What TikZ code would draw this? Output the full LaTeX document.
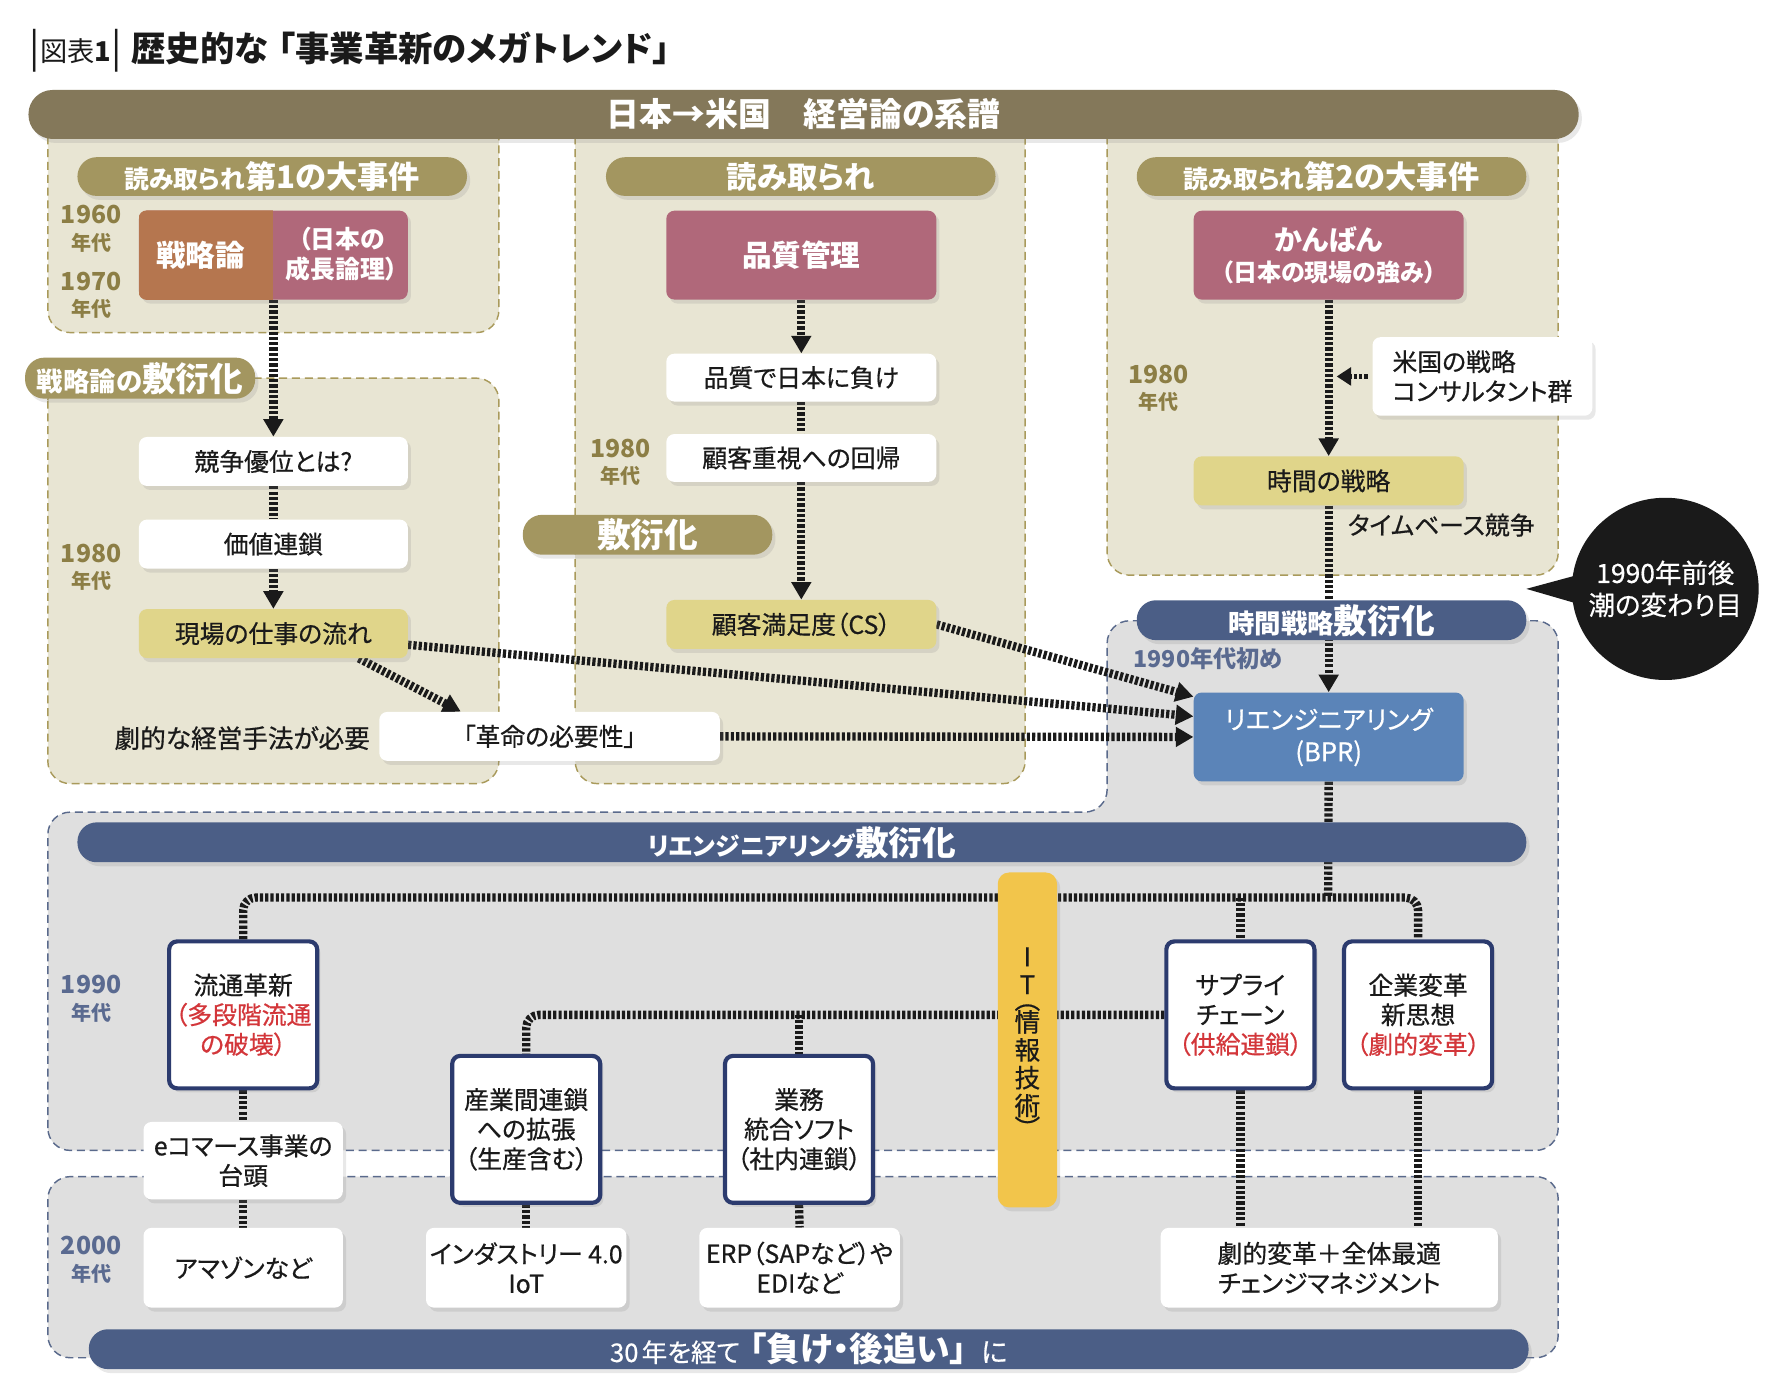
\documentclass[tikz,border=0pt]{standalone}
\usepackage{fontspec}
\setmainfont{Noto Sans CJK JP}[RawFeature=+palt]
\newfontfamily\jpm{Noto Sans CJK JP}[RawFeature=+palt,FakeBold=0.6]
\usepackage{xcolor}
\usepackage{graphicx}
\usepackage{tikz}
\usetikzlibrary{positioning,arrows.meta,shadows,calc,shapes.geometric}

\definecolor{banner}{RGB}{132,120,90}
\definecolor{khaki}{RGB}{163,150,96}
\definecolor{beige}{RGB}{232,229,211}
\definecolor{beigeline}{RGB}{169,154,91}
\definecolor{mauve}{RGB}{176,104,122}
\definecolor{rust}{RGB}{181,118,79}
\definecolor{straw}{RGB}{224,213,138}
\definecolor{navy}{RGB}{75,94,134}
\definecolor{bprblue}{RGB}{91,132,184}
\definecolor{greybg}{RGB}{223,223,223}
\definecolor{greyline}{RGB}{90,106,140}
\definecolor{frame}{RGB}{44,59,110}
\definecolor{alert}{RGB}{211,54,58}
\definecolor{itgold}{RGB}{242,197,75}
\definecolor{eragold}{RGB}{140,126,69}
\definecolor{erablue}{RGB}{90,106,144}
\definecolor{ink}{RGB}{26,26,26}

\def\pu{0.025cm}
\newcommand\fsz[2]{\fontsize{#1}{#2}\selectfont}
\newcommand\era[1]{#1\\{\fsz{12.5}{15}年代}}
\newcommand\vparen[1]{\smash{\rotatebox[origin=c]{-90}{#1}}}

\pgfdeclarelayer{panels}
\pgfdeclarelayer{links}
\pgfsetlayers{panels,links,main}

\begin{document}
\begin{tikzpicture}[x=\pu,y=-\pu,
    lift/.style={drop shadow={opacity=0.18,shadow xshift=2pt,shadow yshift=-2.5pt}},
    dims/.style 2 args={minimum width=#1*\pu,minimum height=#2*\pu},
    box/.style={rectangle,rounded corners=5pt,fill=white,text=ink,align=center,inner sep=0pt,font=\jpm\fsz{15.5}{18.5},lift},
    frm/.style={box,draw=frame,line width=2.6pt,dims={130}{129}},
    pill/.style={rectangle,rounded corners=12pt,fill=khaki,text=white,align=center,inner sep=0pt,font=\bfseries\fsz{19.5}{22},lift},
    bluepill/.style={pill,fill=navy},
    panel/.style={draw=beigeline,fill=beige,line width=0.9pt,dash pattern=on 5pt off 3pt,rounded corners=14pt},
    greypanel/.style={panel,draw=greyline,fill=greybg},
    era/.style={align=center,inner sep=0pt,font=\bfseries\fsz{15.5}{16.5}},
    dots/.style={draw=ink,line width=5.2pt,dash pattern=on 2pt off 1.3pt},
    arr/.style={dots,-{Triangle[width=12pt,length=11pt]}}]
  \useasboundingbox (0,0) rectangle (1568,1227);

  \begin{pgfonlayer}{panels}
    \fill[white] (0,0) rectangle (1568,1227);
    \draw[panel] (42,100) rectangle (438,292);
    \draw[panel] (42,332) rectangle (438,688);
    \draw[panel] (505,100) rectangle (900,688);
    \draw[panel] (972,100) rectangle (1368,505);
    \draw[greypanel] (42,1010) -- (42,713) -- (972,713) -- (972,545) -- (1368,545) -- (1368,1010) -- cycle;
    \draw[greypanel] (42,1033) rectangle (1368,1192);
  \end{pgfonlayer}

  \node[anchor=west,inner sep=0pt,text=ink] (title) at (26,45)
    {{\fsz{24}{26}|}{\fsz{17}{20}図表\textbf{1}}{\fsz{24}{26}|}\hspace{6pt}\bfseries\fsz{21.5}{25}歴史的な\hspace{6pt}「事業革新のメガトレンド」};
  \node[pill,fill=banner,dims={1361}{43},rounded corners=15pt,font=\bfseries\fsz{20.5}{24}] (lineage) at (705.5,100.5) {日本→米国　経営論の系譜};

  % first column
  \node[pill,dims={342}{34}] (yomi1) at (239,155) {{\fsz{15.5}{18}読み取られ}第1の大事件};
  \node[box,fill=mauve,dims={236}{78}] (senryaku) at (240,224) {};
  \begin{scope}
    \clip[rounded corners=5pt] (senryaku.north west) rectangle (senryaku.south east);
    \fill[rust] (senryaku.north west) rectangle (senryaku.south);
  \end{scope}
  \node[text=white,inner sep=0pt,font=\bfseries\fsz{18.5}{21}] (senryaku-l) at (176,224) {戦略論};
  \node[text=white,inner sep=0pt,align=center,font=\bfseries\fsz{15.5}{18.5}] (senryaku-r) at (300,223) {（日本の\\成長論理）};
  \node[era,text=eragold] (e60) at (80,201) {\era{1960}};
  \node[era,text=eragold] (e70) at (80,259) {\era{1970}};
  \node[pill,dims={202}{36},font=\bfseries\fsz{21}{23}] (fuen1) at (123,332) {{\fsz{16.5}{19}戦略論の}敷衍化};
  \node[box,dims={236}{43},below=85.4pt of senryaku] (kyoso) {競争優位とは?};
  \node[box,dims={236}{43},below=20.6pt of kyoso] (kachi) {価値連鎖};
  \node[box,fill=straw,dims={236}{43},below=24.9pt of kachi] (genba) {現場の仕事の流れ};
  \node[era,text=eragold] (e80a) at (80,498) {\era{1980}};
  \node[anchor=east,inner sep=0pt,text=ink,font=\jpm\fsz{16}{19}] (need) at (325,648) {劇的な経営手法が必要};
  \node[box,dims={299}{43}] (kakumei) at (482.5,646.5) {「革命の必要性」};

  % second column
  \node[pill,dims={342}{34},font=\bfseries\fsz{19}{21}] (yomi2) at (703,155) {読み取られ};
  \node[box,fill=mauve,text=white,dims={237}{78},font=\bfseries\fsz{18.5}{21}] (hinshitsu) at (703.5,224) {品質管理};
  \node[box,dims={237}{42},below=33.4pt of hinshitsu] (make) {品質で日本に負け};
  \node[box,dims={237}{42},below=19.9pt of make] (kaiki) {顧客重視への回帰};
  \node[box,fill=straw,dims={237}{43},below=73.3pt of kaiki] (cs) {顧客満足度（CS）};
  \node[era,text=eragold] (e80b) at (545,406) {\era{1980}};
  \node[pill,dims={219}{35},font=\bfseries\fsz{21}{23}] (fuen2) at (568.5,469.5) {敷衍化};

  % third column
  \node[pill,dims={342}{34}] (yomi3) at (1169,155) {{\fsz{15.5}{18}読み取られ}第2の大事件};
  \node[box,fill=mauve,text=white,dims={237}{78},font=\bfseries\fsz{17.5}{19.5}] (kanban) at (1166.5,224) {かんばん\\{\fsz{15}{18}（日本の現場の強み）}};
  \node[box,fill=straw,dims={237}{43},below=97.5pt of kanban] (jikan) {時間の戦略};
  \node[box,dims={193}{69},align=left] (consult) at (1301.5,330.5) {米国の戦略\\コンサルタント群};
  \node[era,text=eragold] (e80c) at (1017,341) {\era{1980}};
  \node[anchor=west,inner sep=0pt,text=ink,font=\jpm\fsz{15.5}{18}] (timebase) at (1183,461) {タイムベース競争};
  \node[bluepill,dims={342}{35},font=\bfseries\fsz{21}{23}] (fuen3) at (1169,544.5) {{\fsz{16.5}{19}時間戦略}敷衍化};
  \node[anchor=west,inner sep=0pt,text=erablue,font=\bfseries\fsz{14.5}{17}] (early) at (995,578) {1990年代初め};
  \node[box,fill=bprblue,text=white,dims={237}{78},font=\jpm\fsz{16}{20}] (bpr) at (1166.5,647) {リエンジニアリング\\(BPR)};
  \node[ellipse,fill=ink,dims={164}{160},inner sep=0pt] (turn) at (1462,517) {};
  \node[text=white,inner sep=0pt,align=center,font=\jpm\fsz{16.5}{20}] (turn-text) at (turn.center) {1990年前後\\潮の変わり目};
  \coordinate (turntip) at (1340,517);
  \fill[ink] (turntip) -- ($(turn.west)+(12,-14)$) -- ($(turn.west)+(12,15)$) -- cycle;

  % reengineering spread
  \node[bluepill,dims={1272}{35},font=\bfseries\fsz{21}{23}] (fuen4) at (704,739.5) {{\fsz{15.5}{18}リエンジニアリング}敷衍化};
  \node[rectangle,rounded corners=7pt,fill=itgold,dims={52}{294},inner sep=0pt,align=center,text=ink,font=\jpm\fsz{16}{17.4},lift] (it) at (902,913)
    {I\\T\\[-4.6pt]\vparen{（}\\[-6.7pt]情\\報\\技\\術\\[-6.7pt]\vparen{）}};
  \node[frm] (ryutsu) at (213.5,891) {流通革新\\\textcolor{alert}{（多段階流通}\\\textcolor{alert}{の破壊）}};
  \node[frm] (sangyo) at (462,991.5) {産業間連鎖\\への拡張\\（生産含む）};
  \node[frm] (gyomu) at (701.5,991.5) {業務\\統合ソフト\\（社内連鎖）};
  \node[frm] (supply) at (1089,891) {サプライ\\チェーン\\\textcolor{alert}{（供給連鎖）}};
  \node[frm] (kigyo) at (1245,891) {企業変革\\新思想\\\textcolor{alert}{（劇的変革）}};
  \node[era,text=erablue] (e90) at (80,877) {\era{1990}};
  \node[box,dims={175}{68}] (ecom) at (213.5,1019) {eコマース事業の\\台頭};

  % 2000s
  \node[era,text=erablue] (e00) at (80,1106) {\era{2000}};
  \node[box,dims={175}{70}] (amazon) at (213.5,1113) {アマゾンなど};
  \node[box,dims={176}{70}] (industry) at (462,1113) {インダストリー 4.0\\IoT};
  \node[box,dims={176}{70}] (erp) at (702,1113) {ERP（SAPなど）や\\EDIなど};
  \node[box,dims={296}{70}] (henkaku) at (1167,1113) {劇的変革＋全体最適\\チェンジマネジメント};
  \node[bluepill,dims={1264}{35},font=\bfseries\fsz{21}{23}] (verdict) at (710,1184.5)
    {{\jpm\mdseries\fsz{16}{19}30\hspace{2pt}年を経て}\hspace{6pt}「負け・後追い」\hspace{9pt}{\jpm\mdseries\fsz{17}{19}に}};

  \begin{pgfonlayer}{links}
    \draw[arr] (senryaku.south) -- (kyoso.north);
    \draw[dots] (kyoso.south) -- (kachi.north);
    \draw[arr] (kachi.south) -- (genba.north);
    \draw[arr] ([xshift=75*\pu]genba.south) -- ([xshift=-78*\pu]kakumei.north);
    \draw[arr] ([yshift=-7pt]genba.east) -- ($(bpr.north west)!0.27!(bpr.south west)$);
    \draw[arr] (cs.east) -- ($(bpr.north west)!0.05!(bpr.south west)$);
    \draw[arr] (kakumei.east) -- (bpr.west);
    \draw[arr] (hinshitsu.south) -- (make.north);
    \draw[dots] (make.south) -- (kaiki.north);
    \draw[arr] (kaiki.south) -- (cs.north);
    \draw[arr] (kanban.south) -- (jikan.north);
    \draw[dots,line width=3.5pt,-{Triangle[width=11pt,length=9pt]}] ([xshift=-4*\pu]consult.west) -- ($(kanban.south |- consult.west)+(7,0)$);
    \draw[arr] (jikan.south) -- (bpr.north);
    \coordinate (bus) at (1166,788);
    \draw[dots] (bpr.south) -- (bus);
    \draw[dots,rounded corners=8pt] (ryutsu.north) -- (ryutsu.north |- bus) -- (kigyo.north |- bus) -- (kigyo.north);
    \draw[dots] (supply.north |- bus) -- (supply.north);
    \draw[dots,rounded corners=8pt] (supply.west) -- (sangyo.north |- supply.west) -- (sangyo.north);
    \draw[dots] (gyomu.north |- supply.west) -- (gyomu.north);
    \draw[dots] (ryutsu.south) -- (ecom.north);
    \draw[dots] (ecom.south) -- (amazon.north);
    \draw[dots] (sangyo.south) -- (industry.north);
    \draw[dots] (gyomu.south) -- (erp.north);
    \draw[dots] (supply.south) -- (supply.south |- henkaku.north);
    \draw[dots] (kigyo.south) -- (kigyo.south |- henkaku.north);
  \end{pgfonlayer}
\end{tikzpicture}
\end{document}
